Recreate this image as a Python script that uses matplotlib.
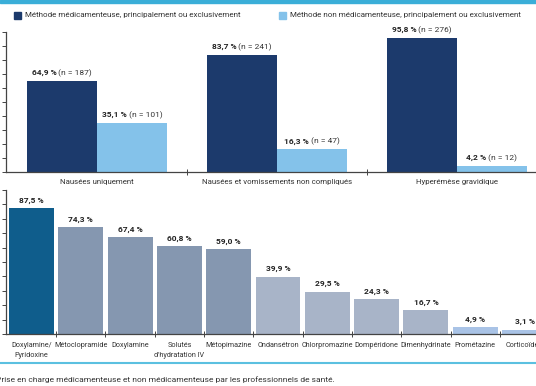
import matplotlib
matplotlib.use("Agg")
import matplotlib.pyplot as plt
import numpy as np
from matplotlib.offsetbox import TextArea, HPacker, AnnotationBbox
from matplotlib.patches import Rectangle
from matplotlib.lines import Line2D

plt.rcParams["font.family"] = ["Roboto", "DejaVu Sans"]

# Top chart: method of care by severity
situations = ["Nausées uniquement", "Nausées et vomissements non compliqués", "Hyperémèse gravidique"]
series_names = ["Méthode médicamenteuse, principalement ou exclusivement",
                "Méthode non médicamenteuse, principalement ou exclusivement"]
pct_drug = [64.9, 83.7, 95.8]
n_drug = [187, 241, 276]
pct_nondrug = [35.1, 16.3, 4.2]
n_nondrug = [101, 47, 12]

# Bottom chart: drugs used
drugs = ["Doxylamine/\nPyridoxine", "Métoclopramide", "Doxylamine", "Solutés\nd'hydratation IV",
         "Métopimazine", "Ondansétron", "Chlorpromazine", "Dompéridone", "Dimenhydrinate",
         "Prométazine", "Corticoïdes"]
drug_pct = [87.5, 74.3, 67.4, 60.8, 59.0, 39.9, 29.5, 24.3, 16.7, 4.9, 3.1]

DARK = "#1c3a6c"
LIGHT = "#84c2ea"
drug_colors = ["#0f5d8c"] + ["#8597b0"] * 4 + ["#a8b4c8"] * 4 + ["#a9c3e6"] * 2
TXT = "#333333"
W, H = 536, 386


def fig_box(x0, y0, x1, y1):
    # pixel box (top-left origin) -> figure fraction [left, bottom, width, height]
    return [x0 / W, 1 - y1 / H, (x1 - x0) / W, (y1 - y0) / H]


def fmt(v):
    return f"{v:.1f}".replace(".", ",") + " %"


def style_axes(ax, label_size, pad):
    for s in ["top", "right"]:
        ax.spines[s].set_visible(False)
    for s in ["left", "bottom"]:
        ax.spines[s].set_color("#444444")
        ax.spines[s].set_linewidth(0.9)
    ax.set_ylim(0, 100)
    ax.set_yticks(np.arange(0, 101, 10))
    ax.set_yticklabels([])
    ax.tick_params(axis="y", length=3, width=0.7, color="#444444", direction="out")
    ax.tick_params(axis="x", which="both", length=0, labelsize=label_size, labelcolor=TXT, pad=pad)
    ax.tick_params(axis="x", which="minor", length=4, width=0.7, color="#444444", direction="inout")


fig = plt.figure(figsize=(W / 100, H / 100), dpi=100)

# ---- top chart ----
ax1 = fig.add_axes(fig_box(6, 32, 536, 172))
x = np.arange(len(situations))
bw = 0.39
b1 = ax1.bar(x - bw / 2, pct_drug, bw, color=DARK)
b2 = ax1.bar(x + bw / 2, pct_nondrug, bw, color=LIGHT)
ax1.set_xlim(-0.506, 2.44)
style_axes(ax1, 5.7, 5)
ax1.set_xticks(x)
ax1.set_xticklabels(situations)
ax1.set_xticks(x[:-1] + 0.5, minor=True)

for rects, pcts, ns in [(b1, pct_drug, n_drug), (b2, pct_nondrug, n_nondrug)]:
    for r, p, n in zip(rects, pcts, ns):
        box = HPacker(children=[TextArea(fmt(p), textprops=dict(weight="bold", size=6, color="#222222")),
                                TextArea(f" (n = {n})", textprops=dict(size=6, color=TXT))],
                      sep=0, pad=0, align="baseline")
        ab = AnnotationBbox(box, (r.get_x() + r.get_width() / 2, r.get_height()),
                            xybox=(0, 3), xycoords="data", boxcoords="offset points",
                            box_alignment=(0.5, 0), frameon=False, pad=0)
        ax1.add_artist(ab)

# legend drawn by hand at the top
for lx, col, name in [(14, DARK, series_names[0]), (279, LIGHT, series_names[1])]:
    fig.patches.append(Rectangle((lx / W, 1 - 19 / H), 7 / W, 7 / H, color=col,
                                 transform=fig.transFigure, figure=fig))
    fig.text((lx + 11) / W, 1 - 15.5 / H, name, fontsize=5.75, color=TXT, va="center")

# ---- bottom chart ----
ax2 = fig.add_axes(fig_box(6, 190, 536, 334))
xd = np.arange(len(drugs))
bars = ax2.bar(xd, drug_pct, 0.91, color=drug_colors)
ax2.set_xlim(-0.517, 10.233)
style_axes(ax2, 5.2, 6)
ax2.set_xticks(xd)
ax2.set_xticklabels(drugs, linespacing=1.5, va="top")
ax2.set_xticks(xd[:-1] + 0.5, minor=True)
for r, p in zip(bars, drug_pct):
    ax2.annotate(fmt(p), (r.get_x() + r.get_width() / 2, r.get_height()),
                 xytext=(0, 3), textcoords="offset points", ha="center", va="bottom",
                 fontsize=6, weight="bold", color="#222222")

# decorative lines and caption
fig.patches.append(Rectangle((0, 1 - 3 / H), 1, 3 / H, color="#3aaed8",
                             transform=fig.transFigure, figure=fig))
fig.lines.append(Line2D([0, 1], [1 - 363 / H, 1 - 363 / H], color="#5bc0e0", lw=1.5,
                        transform=fig.transFigure, figure=fig))
fig.text(-4 / W, 1 - 380 / H,
         "Prise en charge médicamenteuse et non médicamenteuse par les professionnels de santé.",
         fontsize=6, color=TXT, va="center")

fig.savefig("out.png", dpi=100)
